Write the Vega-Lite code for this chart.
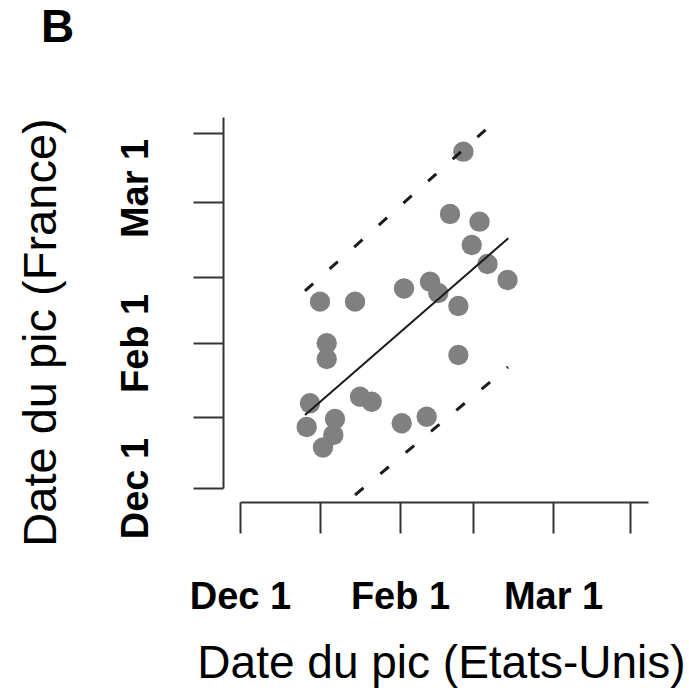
{
  "$schema": "https://vega.github.io/schema/vega-lite/v6.json",
  "width": 408,
  "height": 371,
  "autosize": "none",
  "padding": {"left": 240, "top": 117, "right": 41, "bottom": 205},
  "background": "white",
  "title": {"text": "B", "anchor": "start", "frame": "group", "font": "Liberation Sans", "fontSize": 46, "fontWeight": "bold", "color": "black", "dx": -199, "offset": 65},
  "datasets": {
    "pts": [
      {"us": 2.856, "fr": 4.723},
      {"us": 2.685, "fr": 3.848},
      {"us": 3.063, "fr": 3.740},
      {"us": 2.963, "fr": 3.413},
      {"us": 3.165, "fr": 3.146},
      {"us": 3.421, "fr": 2.921},
      {"us": 2.097, "fr": 2.802},
      {"us": 2.430, "fr": 2.897},
      {"us": 2.536, "fr": 2.739},
      {"us": 2.792, "fr": 2.556},
      {"us": 1.023, "fr": 2.617},
      {"us": 1.471, "fr": 2.617},
      {"us": 1.109, "fr": 2.032},
      {"us": 1.109, "fr": 1.812},
      {"us": 2.792, "fr": 1.868},
      {"us": 0.895, "fr": 1.190},
      {"us": 1.535, "fr": 1.282},
      {"us": 1.684, "fr": 1.212},
      {"us": 2.068, "fr": 0.909},
      {"us": 2.387, "fr": 1.001},
      {"us": 0.853, "fr": 0.857},
      {"us": 1.215, "fr": 0.969},
      {"us": 1.193, "fr": 0.744},
      {"us": 1.061, "fr": 0.569}
    ],
    "lines": [
      {"line": "fit", "us": 0.831, "fr": 1.025},
      {"line": "fit", "us": 3.431, "fr": 3.507},
      {"line": "upper", "us": 0.831, "fr": 2.767},
      {"line": "upper", "us": 3.223, "fr": 5.112},
      {"line": "lower", "us": 1.471, "fr": -0.098},
      {"line": "lower", "us": 3.427, "fr": 1.699}
    ]
  },
  "config": {
    "view": {"stroke": null},
    "axis": {
      "grid": false,
      "domainColor": "#333333",
      "domainWidth": 2,
      "tickColor": "#333333",
      "tickWidth": 2,
      "labelFont": "Liberation Sans",
      "labelFontWeight": "bold",
      "labelFontSize": 38,
      "labelColor": "black",
      "titleFont": "Liberation Sans",
      "titleFontWeight": "normal",
      "titleFontSize": 46,
      "titleColor": "black",
      "labelOverlap": false,
      "labelFlush": false
    }
  },
  "layer": [
    {
      "data": {"name": "pts"},
      "mark": {"type": "circle", "size": 415, "color": "#808080", "opacity": 1},
      "encoding": {
        "x": {
          "field": "us", "type": "quantitative",
          "scale": {"domain": [0, 5.217], "nice": false, "zero": false},
          "axis": {
            "title": "Date du pic (Etats-Unis)",
            "offset": 14,
            "tickSize": 31,
            "values": [0, 1.023, 2.046, 2.980, 4.003, 4.987],
            "labelExpr": "datum.value < 0.5 ? 'Dec 1' : abs(datum.value - 2.046) < 0.1 ? 'Feb 1' : abs(datum.value - 4.003) < 0.1 ? 'Mar 1' : ''",
            "labelBaseline": "alphabetic",
            "labelAlign": "center",
            "labelPadding": 75,
            "titleX": 201,
            "titleY": 175,
            "titleAlign": "center",
            "titleBaseline": "alphabetic"
          }
        },
        "y": {
          "field": "fr", "type": "quantitative",
          "scale": {"domain": [0, 5.21], "nice": false, "zero": false},
          "axis": {
            "title": "Date du pic (France)",
            "titleFontSize": 47,
            "offset": 17,
            "tickSize": 30,
            "values": [0, 0.997, 2.037, 2.963, 4.017, 4.986],
            "labelExpr": "datum.value < 0.5 ? 'Dec 1' : abs(datum.value - 2.037) < 0.1 ? 'Feb 1' : abs(datum.value - 4.017) < 0.1 ? 'Mar 1' : ''",
            "labelAngle": -90,
            "labelAlign": "center",
            "labelBaseline": "alphabetic",
            "labelPadding": 46,
            "labelOffset": {"condition": {"test": "datum.value > 3.5", "value": -14}, "value": 0},
            "titleAngle": -90,
            "titleX": -168,
            "titleY": 215,
            "titleAlign": "center",
            "titleBaseline": "alphabetic"
          }
        }
      }
    },
    {
      "data": {"name": "lines"},
      "transform": [{"filter": "datum.line == 'fit'"}],
      "mark": {"type": "line", "color": "#1a1a1a", "strokeWidth": 2},
      "encoding": {
        "x": {"field": "us", "type": "quantitative"},
        "y": {"field": "fr", "type": "quantitative"},
        "detail": {"field": "line"}
      }
    },
    {
      "data": {"name": "lines"},
      "transform": [{"filter": "datum.line != 'fit'"}],
      "mark": {"type": "line", "color": "#1a1a1a", "strokeWidth": 3, "strokeDash": [11, 22]},
      "encoding": {
        "x": {"field": "us", "type": "quantitative"},
        "y": {"field": "fr", "type": "quantitative"},
        "detail": {"field": "line"}
      }
    }
  ]
}
